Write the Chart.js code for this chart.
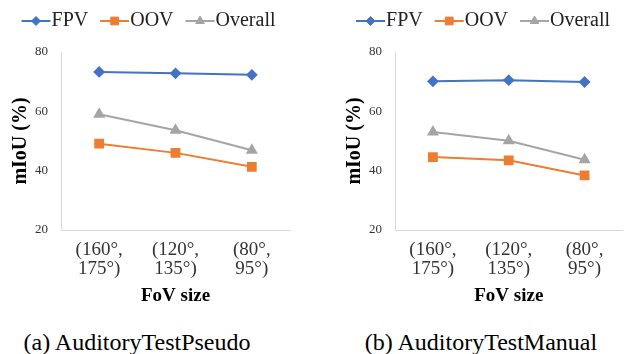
<!DOCTYPE html>
<html>
<head>
<meta charset="utf-8">
<script src="https://cdn.jsdelivr.net/npm/chart.js@4/dist/chart.umd.min.js"></script>
<style>
  body { margin: 0; background: #fff; }
  #wrap { position: relative; width: 630px; height: 354px; overflow: hidden; font-family: "Liberation Serif", "Times New Roman", serif; }
  .box { position: absolute; top: 0; height: 320px; }
  .cap { position: absolute; top: 327px; width: 300px; text-align: center; font-size: 24px; line-height: 30px; color: #000; }
</style>
</head>
<body>
<div id="wrap">
  <div class="box" style="left:0;width:298px"><canvas id="left"></canvas></div>
  <div class="box" style="left:336px;width:294px"><canvas id="right"></canvas></div>
  <div class="cap" style="left:-13px">(a) AuditoryTestPseudo</div>
  <div class="cap" style="left:331px">(b) AuditoryTestManual</div>
</div>
<script>
const categories = [['(160°,', '175°)'], ['(120°,', '135°)'], ['(80°,', '95°)']];
const seriesNames = ['FPV', 'OOV', 'Overall'];

const pseudoFPV = [73.3, 72.8, 72.3];
const pseudoOOV = [49.1, 46.0, 41.3];
const pseudoOverall = [59.0, 53.6, 46.9];

const manualFPV = [70.1, 70.5, 69.9];
const manualOOV = [44.6, 43.5, 38.4];
const manualOverall = [53.0, 50.1, 43.7];

const colors = ['#4472C4', '#ED7D31', '#A5A5A5'];
const markers = ['rectRot', 'rect', 'triangle'];
const radii = [4.5, 5.5, 5];

const serif = '"Liberation Serif", "Times New Roman", serif';
const BOX_W = 20, LEG_FONT = 20;

// legend swatch: a line through a marker, touching the text
const legendLines = {
  id: 'legendLines',
  afterInit(chart) {
    // leave a gap between the legend and the plot
    const lg = chart.legend;
    const fit = lg.fit;
    lg.fit = function () { fit.call(this); this.height += 11; };
  },
  afterDraw(chart) {
    const lg = chart.legend;
    if (!lg || !lg.legendHitBoxes) return;
    const ctx = chart.ctx;
    lg.legendHitBoxes.forEach((hb, i) => {
      const ds = chart.data.datasets[i];
      const y = hb.top + hb.height / 2;
      const x0 = hb.left, x1 = hb.left + BOX_W + LEG_FONT / 2 - 1;
      ctx.save();
      ctx.strokeStyle = ds.borderColor;
      ctx.lineWidth = 2;
      ctx.beginPath();
      ctx.moveTo(x0, y);
      ctx.lineTo(x1, y);
      ctx.stroke();
      ctx.fillStyle = ds.borderColor;
      ctx.lineWidth = 1;
      Chart.helpers.drawPoint(ctx, { pointStyle: ds.pointStyle, radius: ds.pointRadius, borderWidth: 1, rotation: 0 }, (x0 + x1) / 2, y);
      ctx.restore();
    });
  }
};

function makeChart(id, values, leftPad, rightPad) {
  return new Chart(document.getElementById(id).getContext('2d'), {
    type: 'line',
    data: {
      labels: categories,
      datasets: values.map((v, i) => ({
        label: seriesNames[i],
        data: v,
        borderColor: colors[i],
        backgroundColor: colors[i],
        pointBackgroundColor: colors[i],
        pointBorderColor: colors[i],
        pointStyle: markers[i],
        pointRadius: radii[i],
        borderWidth: 2,
        tension: 0
      }))
    },
    options: {
      responsive: true,
      maintainAspectRatio: false,
      animation: false,
      layout: { padding: { top: -1, left: leftPad, right: rightPad, bottom: 10 } },
      plugins: {
        legend: {
          position: 'top',
          labels: {
            boxWidth: BOX_W,
            padding: 12,
            color: '#222',
            font: { family: serif, size: LEG_FONT },
            generateLabels(chart) {
              return Chart.defaults.plugins.legend.labels.generateLabels(chart).map((it) =>
                Object.assign(it, { fillStyle: 'rgba(0,0,0,0)', strokeStyle: 'rgba(0,0,0,0)', lineWidth: 0 }));
            }
          }
        },
        tooltip: { enabled: false }
      },
      scales: {
        x: {
          offset: true,
          grid: { display: false, drawTicks: false },
          border: { display: true, color: '#d9d9d9', width: 1 },
          ticks: { color: '#333', padding: 11, maxRotation: 0, font: { family: serif, size: 19, lineHeight: 1 } },
          title: { display: true, text: 'FoV size', color: '#000', padding: { top: -3, bottom: 4 }, font: { family: serif, size: 19, weight: 'bold', lineHeight: 1 } }
        },
        y: {
          min: 20, max: 80,
          grid: { display: false, drawTicks: false },
          border: { display: true, color: '#d9d9d9', width: 1 },
          ticks: { stepSize: 20, color: '#333', padding: 13, font: { family: serif, size: 13 } },
          title: { display: true, text: 'mIoU (%)', color: '#000', padding: { top: 4, bottom: -9 }, font: { family: serif, size: 20, weight: 'bold', lineHeight: 1 } }
        }
      }
    },
    plugins: [legendLines]
  });
}

makeChart('left', [pseudoFPV, pseudoOOV, pseudoOverall], 7, 8);
makeChart('right', [manualFPV, manualOOV, manualOverall], 5, 5);
</script>
</body>
</html>
